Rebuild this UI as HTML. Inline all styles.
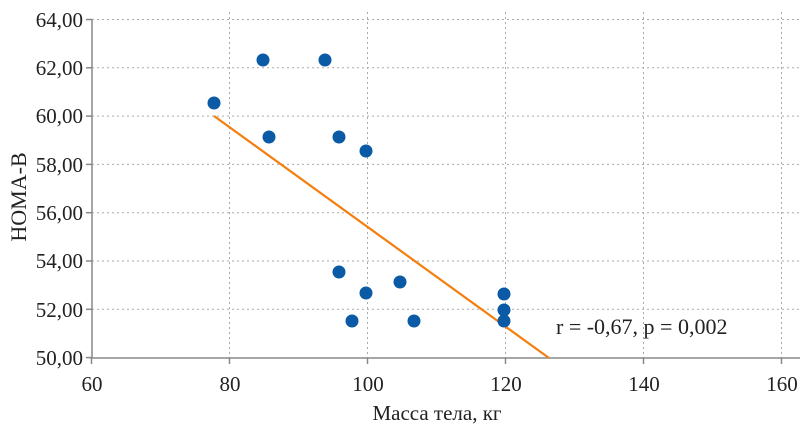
<!DOCTYPE html>
<html><head><meta charset="utf-8"><style>body{margin:0;background:#fff}svg{display:block}text{font-family:"Liberation Serif",serif;fill:#222}</style></head><body>
<svg width="800" height="430" xmlns="http://www.w3.org/2000/svg">
<g stroke="#aaa" stroke-dasharray="2,3" stroke-width="1">
<line x1="92" y1="19.5" x2="800" y2="19.5"/><line x1="92" y1="67.8" x2="800" y2="67.8"/><line x1="92" y1="116.1" x2="800" y2="116.1"/><line x1="92" y1="164.4" x2="800" y2="164.4"/><line x1="92" y1="212.7" x2="800" y2="212.7"/><line x1="92" y1="261" x2="800" y2="261"/><line x1="92" y1="309.3" x2="800" y2="309.3"/>
<line x1="229.5" y1="12" x2="229.5" y2="358"/><line x1="367.5" y1="12" x2="367.5" y2="358"/><line x1="505.5" y1="12" x2="505.5" y2="358"/><line x1="643.5" y1="12" x2="643.5" y2="358"/><line x1="781.5" y1="12" x2="781.5" y2="358"/>
</g>
<g stroke="#888" stroke-width="1.5">
<line x1="92" y1="19" x2="92" y2="358"/><line x1="91" y1="358" x2="800" y2="358"/>
<line x1="86" y1="19.5" x2="92" y2="19.5"/><line x1="86" y1="67.8" x2="92" y2="67.8"/><line x1="86" y1="116.1" x2="92" y2="116.1"/><line x1="86" y1="164.4" x2="92" y2="164.4"/><line x1="86" y1="212.7" x2="92" y2="212.7"/><line x1="86" y1="261" x2="92" y2="261"/><line x1="86" y1="309.3" x2="92" y2="309.3"/><line x1="86" y1="357.6" x2="92" y2="357.6"/>
<line x1="91.5" y1="358" x2="91.5" y2="364"/><line x1="229.5" y1="358" x2="229.5" y2="364"/><line x1="367.5" y1="358" x2="367.5" y2="364"/><line x1="505.5" y1="358" x2="505.5" y2="364"/><line x1="643.5" y1="358" x2="643.5" y2="364"/><line x1="781.5" y1="358" x2="781.5" y2="364"/>
</g>
<g font-size="21" text-anchor="end">
<text x="83" y="27">64,00</text><text x="83" y="75">62,00</text><text x="83" y="123">60,00</text><text x="83" y="172">58,00</text><text x="83" y="220">56,00</text><text x="83" y="268">54,00</text><text x="83" y="317">52,00</text><text x="83" y="365">50,00</text>
</g>
<g font-size="21" text-anchor="middle">
<text x="92" y="391">60</text><text x="230" y="391">80</text><text x="368" y="391">100</text><text x="506" y="391">120</text><text x="644" y="391">140</text><text x="782" y="391">160</text>
<text x="437" y="420" font-size="21">Масса тела, кг</text>
<text transform="translate(26,197) rotate(-90)" font-size="22">HOMA-B</text>
</g>
<text x="556" y="334" font-size="22">r = -0,67, p = 0,002</text>
<line x1="214" y1="116" x2="549" y2="358" stroke="#f47f0f" stroke-width="2.2"/>
<g fill="#0b5aa6">
<circle cx="214" cy="103" r="6.5"/><circle cx="263" cy="60" r="6.5"/><circle cx="325" cy="60" r="6.5"/><circle cx="269" cy="137" r="6.5"/><circle cx="339" cy="137" r="6.5"/><circle cx="366" cy="151" r="6.5"/><circle cx="339" cy="272" r="6.5"/><circle cx="366" cy="293" r="6.5"/><circle cx="352" cy="321" r="6.5"/><circle cx="400" cy="282" r="6.5"/><circle cx="414" cy="321" r="6.5"/><circle cx="504" cy="294" r="6.5"/><circle cx="504" cy="310" r="6.5"/><circle cx="504" cy="321" r="6.5"/>
</g>
</svg>
</body></html>
